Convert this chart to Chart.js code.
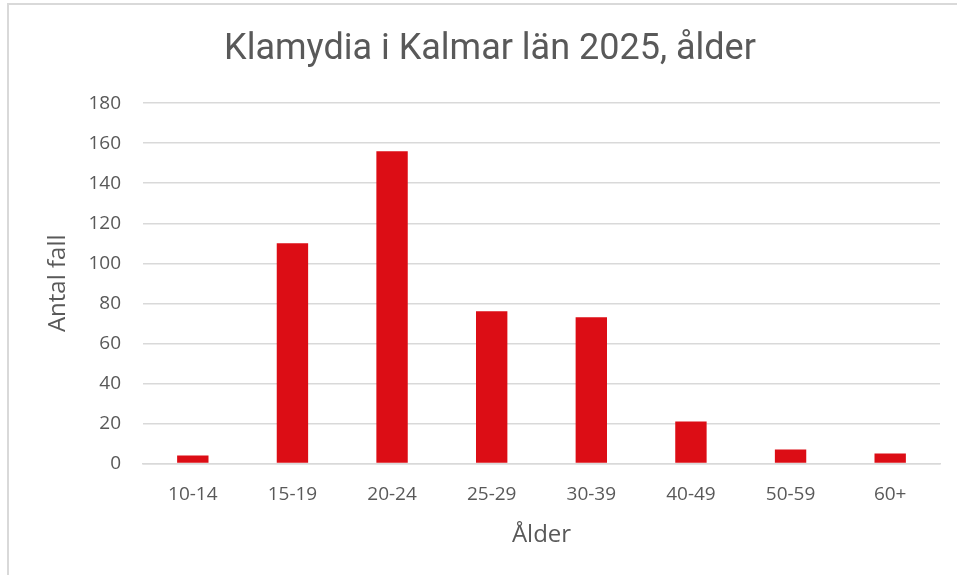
<!DOCTYPE html>
<html>
<head>
<meta charset="utf-8">
<script src="https://cdn.jsdelivr.net/npm/chart.js@4.4.1/dist/chart.umd.min.js"></script>
<style>
  body { margin: 0; background: #fff; }
  #wrap { position: absolute; left: 0; top: 0; width: 957px; height: 575px; }
</style>
</head>
<body>
<div id="wrap"><canvas id="klamydiaChart" width="957" height="575"></canvas></div>
<script>
// data
var aldersgrupper = ["10-14", "15-19", "20-24", "25-29", "30-39", "40-49", "50-59", "60+"];
var antalFall = [4, 110, 156, 76, 73, 21, 7, 5];
var yTicks = [0, 20, 40, 60, 80, 100, 120, 140, 160, 180];

var gra = "#595959";
var typsnitt = "'Open Sans', sans-serif";

// ram (bara vänster och överkant syns)
var ramPlugin = {
  id: "ram",
  beforeDraw: function (chart) {
    var c = chart.ctx;
    c.save();
    c.fillStyle = "#fff";
    c.fillRect(0, 0, chart.width, chart.height);
    c.strokeStyle = "#d9d9d9";
    c.lineWidth = 2;
    c.beginPath();
    c.moveTo(8, chart.height);
    c.lineTo(8, 4);
    c.lineTo(chart.width, 4);
    c.stroke();
    c.restore();
  }
};

var ctx = document.getElementById("klamydiaChart");
var myChart = new Chart(ctx, {
  type: "bar",
  data: {
    labels: aldersgrupper,
    datasets: [{
      label: "Antal fall",
      data: antalFall,
      backgroundColor: "#dc0d15",
      borderWidth: 0,
      categoryPercentage: 1,
      barPercentage: 0.315
    }]
  },
  options: {
    responsive: false,
    animation: false,
    layout: { padding: { left: 40, right: 17, top: 28, bottom: 21 } },
    plugins: {
      legend: { display: false },
      tooltip: { enabled: false },
      title: {
        display: true,
        text: "Klamydia i Kalmar län 2025, ålder",
        color: gra,
        font: { family: "Roboto, sans-serif", size: 36, weight: "normal" },
        padding: { top: 0, bottom: 32 }
      }
    },
    scales: {
      x: {
        grid: { display: false },
        border: { color: "#d9d9d9", width: 1.5 },
        ticks: { color: gra, font: { family: typsnitt, size: 19 }, padding: 12 },
        title: {
          display: true,
          text: "Ålder",
          color: gra,
          font: { family: typsnitt, size: 24 },
          padding: { top: 3 }
        }
      },
      y: {
        min: 0,
        max: 180,
        afterBuildTicks: function (axis) {
          axis.ticks = yTicks.map(function (v) { return { value: v }; });
        },
        afterFit: function (axis) { axis.width = 103; },
        grid: { color: "#d9d9d9", lineWidth: 1.5, drawTicks: false },
        border: { display: false },
        ticks: { color: gra, font: { family: typsnitt, size: 19 }, padding: 22 },
        title: {
          display: true,
          text: "Antal fall",
          color: gra,
          font: { family: typsnitt, size: 24 },
          padding: { bottom: 4 }
        }
      }
    }
  },
  plugins: [ramPlugin]
});
</script>
</body>
</html>
